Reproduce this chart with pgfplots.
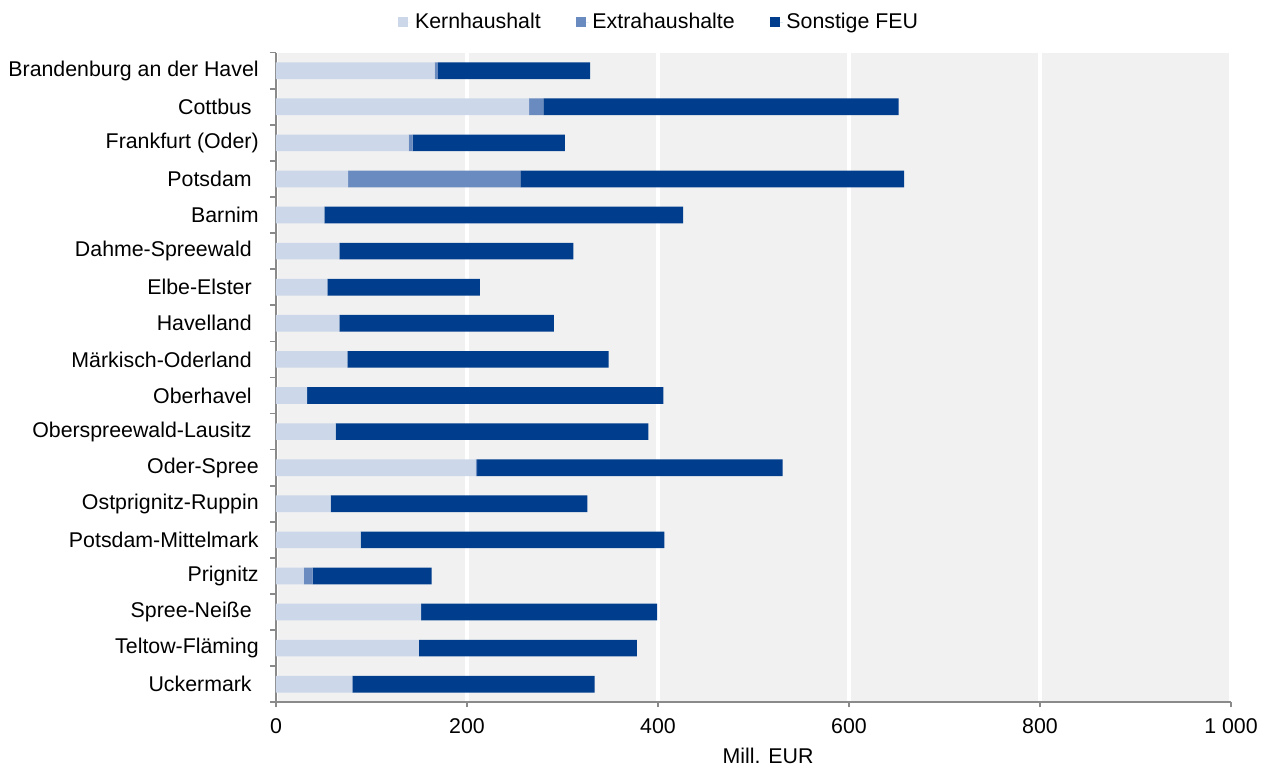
\documentclass[border=0pt]{standalone}
\usepackage{pgfplots}
\pgfplotsset{compat=1.18}
\usepackage{fontspec}
\setmainfont{Liberation Sans}
\definecolor{kern}{HTML}{CCD8EA}
\definecolor{extra}{HTML}{698BBF}
\definecolor{sonst}{HTML}{003D8C}
\definecolor{bg}{HTML}{F1F1F1}
\definecolor{ax}{HTML}{8A8A8A}
\newcommand{\tsp}{\kern4.2pt}
\begin{document}
\fontsize{12.8}{15}\selectfont
\begin{tikzpicture}
\path[use as bounding box] (0,0) rectangle (757.8pt,460.2pt);
\begin{axis}[
  at={(165.6pt,38.82pt)}, anchor=south west,
  scale only axis, width=573pt, height=389.8pt,
  xbar stacked, bar width=10pt,
  xmin=0, xmax=1000, ymin=-0.5, ymax=17.5,
  axis background/.style={fill=bg},
  axis x line*=bottom, axis y line*=left,
  axis line style={draw=ax, line width=1.2pt},
  xtick={0,200,400,600,800,1000},
  xticklabels={0,200,400,600,800,1 000},
  /pgf/number format/assume math mode=true,
  xmajorgrids, major x grid style={draw=white, line width=2.4pt},
  tick align=outside,
  major tick length=3pt,
  x tick style={draw=ax, line width=1pt},
  ytick={0,...,17},
  y tick style={draw=none},
  minor ytick={-0.5,0.5,...,17.5},
  minor y tick style={draw=ax, line width=1pt},
  minor tick length=3.6pt,
  yticklabels={Uckermark\tsp,Teltow-Fläming,Spree-Neiße\tsp,Prignitz,Potsdam-Mittelmark,Ostprignitz-Ruppin,Oder-Spree,Oberspreewald-Lausitz\tsp,Oberhavel\tsp,Märkisch-Oderland\tsp,Havelland\tsp,Elbe-Elster\tsp,Dahme-Spreewald\tsp,Barnim,Potsdam\tsp,Frankfurt (Oder),Cottbus\tsp,Brandenburg an der Havel},
  yticklabel style={anchor=east, inner sep=0pt, xshift=-7.2pt, font=\fontsize{12.8}{15}\selectfont},
  xticklabel style={anchor=north, inner sep=0pt, yshift=-6.5pt, font=\fontsize{12.8}{15}\selectfont},
  xlabel={Mill. EUR},
  xlabel style={font=\fontsize{12.8}{15}\selectfont, xshift=8.7pt, yshift=-4.5pt},
  legend style={at={(0.402,1.047)}, anchor=center, draw=none, fill=none,
    legend columns=3, font=\fontsize{12.8}{15}\selectfont,
    /tikz/every even column/.append style={column sep=19pt},
    legend cell align=left},
  legend image code/.code={\fill[#1] (0pt,-3pt) rectangle (6pt,3pt); \path (0pt,0pt) -- (8pt,0pt);},
]
\addplot[fill=kern, draw=none] coordinates {
(79.9,0) (149.7,1) (152,2) (29.3,3) (88.6,4) (57.2,5) (209,6) (62.5,7) (32.5,8) (74.7,9) (66.3,10) (53.7,11) (66.3,12) (50.6,13) (75.4,14) (139,15) (265,16) (166,17)};
\addplot[fill=extra, draw=none] coordinates {
(0,0) (0,1) (0,2) (9.1,3) (0,4) (0,5) (1.5,6) (0,7) (0,8) (0,9) (0,10) (0,11) (0,12) (0,13) (180.4,14) (4,15) (15,16) (3.5,17)};
\addplot[fill=sonst, draw=none] coordinates {
(253.8,0) (228.3,1) (247,2) (124.6,3) (318,4) (268.8,5) (320,6) (327.5,7) (373.1,8) (273.6,9) (224.7,10) (159.9,11) (245,12) (375.6,13) (402,14) (159.6,15) (372,16) (159.5,17)};
\legend{Kernhaushalt,Extrahaushalte,Sonstige FEU}
\end{axis}
\end{tikzpicture}
\end{document}
